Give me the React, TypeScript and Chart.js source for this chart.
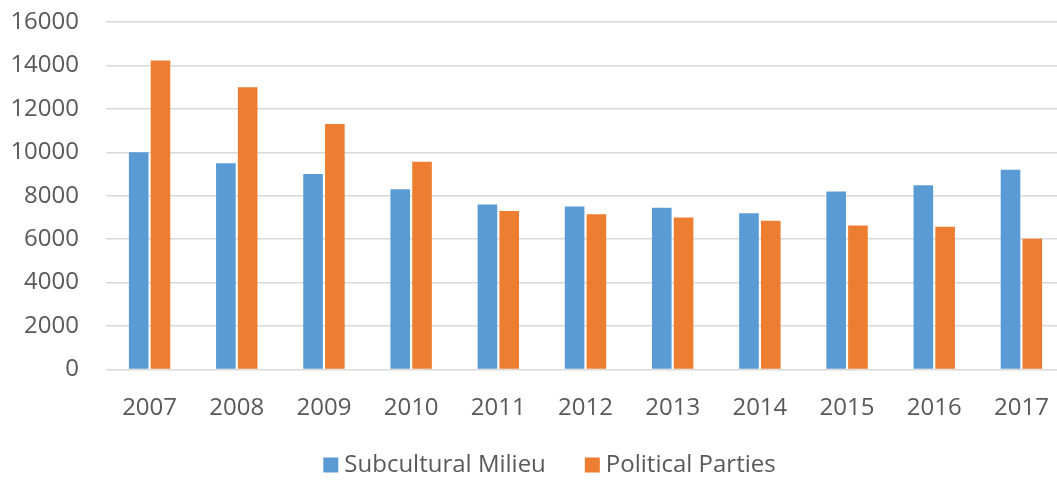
import React, { useEffect, useRef } from "react";
import { Chart, registerables } from "chart.js";

Chart.register(...registerables);

const years = ["2007", "2008", "2009", "2010", "2011", "2012", "2013", "2014", "2015", "2016", "2017"];
const subculturalMilieu = [10000, 9500, 9000, 8300, 7600, 7500, 7450, 7200, 8200, 8480, 9200];
const politicalParties = [14230, 13000, 11300, 9570, 7300, 7150, 7000, 6850, 6630, 6570, 6020];
const seriesNames = ["Subcultural Milieu", "Political Parties"];
const seriesColors = ["#5B9BD5", "#ED7D31"];

const FONT = "'Open Sans', sans-serif";
const TEXT = "#595959";

// Legend drawn centred under the axis: square swatch followed by the series name.
const bottomLegend = {
  id: "bottomLegend",
  afterDraw(chart: Chart) {
    const ctx = chart.ctx;
    const box = 15;
    const gapText = 6;
    const gapItem = 39;
    const y = 465;
    ctx.save();
    ctx.font = `24px ${FONT}`;
    ctx.textBaseline = "middle";
    const items = chart.data.datasets.map((d) => ({
      text: String(d.label),
      color: String(d.backgroundColor),
      w: ctx.measureText(String(d.label)).width,
    }));
    const total = items.reduce((s, it) => s + box + gapText + it.w, 0) + gapItem * (items.length - 1);
    let x = 549.5 - total / 2;
    items.forEach((it) => {
      ctx.fillStyle = it.color;
      ctx.fillRect(x, y - box / 2, box, box);
      ctx.fillStyle = TEXT;
      ctx.fillText(it.text, x + box + gapText, y);
      x += box + gapText + it.w + gapItem;
    });
    ctx.restore();
  },
};

export default function App() {
  const ref = useRef<HTMLCanvasElement>(null);

  useEffect(() => {
    document.body.style.margin = "0";
    if (!ref.current) return;
    const chart = new Chart(ref.current, {
      type: "bar",
      data: {
        labels: years,
        datasets: [
          {
            label: seriesNames[0],
            data: subculturalMilieu,
            backgroundColor: seriesColors[0],
            barPercentage: 0.9,
            categoryPercentage: 0.5,
          },
          {
            label: seriesNames[1],
            data: politicalParties,
            backgroundColor: seriesColors[1],
            barPercentage: 0.9,
            categoryPercentage: 0.5,
          },
        ],
      },
      options: {
        animation: false,
        responsive: false,
        layout: { padding: { top: 22, right: 15, left: 0, bottom: 0 } },
        plugins: {
          legend: { display: false },
          tooltip: { enabled: false },
        },
        scales: {
          x: {
            grid: { display: false },
            border: { display: false },
            ticks: { color: TEXT, font: { family: FONT, size: 24 }, padding: 16 },
            afterFit: (scale: any) => {
              scale.height = 480 - 369.5;
            },
          },
          y: {
            min: 0,
            max: 16000,
            ticks: {
              stepSize: 2000,
              color: TEXT,
              font: { family: FONT, size: 24 },
              padding: 27,
              callback: (v: any) => String(v),
            },
            grid: { color: "#D9D9D9", lineWidth: 1.5, drawTicks: false },
            border: { display: false },
            afterFit: (scale: any) => {
              scale.width = 106;
              scale.paddingTop = 0;
              scale.paddingBottom = 0;
            },
          },
        },
      },
      plugins: [bottomLegend],
    });
    return () => chart.destroy();
  }, []);

  return (
    <div style={{ width: 1057, height: 480, overflow: "hidden", background: "#fff" }}>
      <canvas ref={ref} width={1080} height={480} style={{ display: "block" }} />
    </div>
  );
}
